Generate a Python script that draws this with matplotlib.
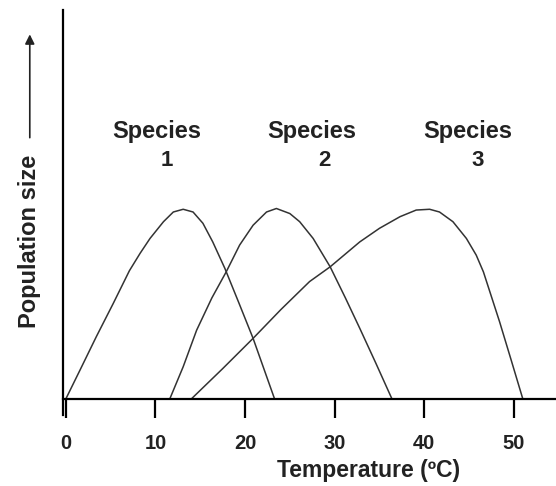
import matplotlib.pyplot as plt

# Curve points (temperature in degC, population in arbitrary units)
species1_x = [0, 1.6, 3.4, 5.3, 7.1, 8.3, 9.4, 10.9, 12.0, 13.1, 14.2, 15.3, 16.4, 17.75, 19.3, 20.9, 22.1, 23.3]
species1_y = [0, 7.5, 16.0, 24.6, 33.0, 37.5, 41.3, 45.6, 48.1, 48.8, 48.1, 45.2, 40.4, 33.6, 24.8, 15.6, 7.8, 0]

species2_x = [11.6, 13.1, 14.6, 16.3, 17.9, 19.4, 20.9, 22.4, 23.5, 25.0, 26.1, 27.6, 29.5, 31.2, 32.8, 34.6, 36.4]
species2_y = [0, 8.3, 17.7, 26.0, 32.7, 39.6, 44.7, 48.1, 49.0, 47.7, 45.6, 41.3, 34.0, 26.0, 18.2, 9.2, 0]

species3_x = [14.0, 17.5, 20.9, 24.0, 27.2, 29.5, 32.8, 35.0, 37.3, 39.1, 40.6, 41.7, 43.2, 44.7, 45.8, 46.6, 48.4, 49.7, 51.0]
species3_y = [0, 7.8, 15.6, 23.0, 30.2, 34.0, 40.4, 43.9, 46.9, 48.6, 48.8, 48.1, 45.6, 41.3, 37.0, 32.7, 19.9, 10.0, 0]

labels = ['Species', 'Species', 'Species']
numbers = ['1', '2', '3']
label_x = [10.1, 27.4, 44.8]
number_x = [11.3, 28.9, 45.9]

xticks = [0, 10, 20, 30, 40, 50]

plt.rcParams['font.family'] = ['Liberation Sans', 'DejaVu Sans']

fig = plt.figure(figsize=(5.56, 4.86), dpi=100)
ax = fig.add_axes([0.113, 0.179, 0.887, 0.80])

for xs, ys in [(species1_x, species1_y), (species2_x, species2_y), (species3_x, species3_y)]:
    ax.plot(xs, ys, color='#333333', linewidth=1.1, solid_joinstyle='round')

for lx, nx, lab, num in zip(label_x, number_x, labels, numbers):
    ax.text(lx, 68.9, lab, ha='center', va='center', fontsize=17, fontweight='bold', color='#222222')
    ax.text(nx, 61.4, num, ha='center', va='center', fontsize=16, fontweight='bold', color='#222222')

ax.set_xlim(-0.33, 54.7)
ax.set_ylim(0, 100)

ax.spines['top'].set_visible(False)
ax.spines['right'].set_visible(False)
ax.spines['left'].set_linewidth(1.6)
ax.spines['bottom'].set_linewidth(1.6)
ax.spines['left'].set_bounds(-4, 100)

ax.set_xticks(xticks)
ax.set_xticklabels([str(t) for t in xticks], fontsize=14.5, fontweight='bold', color='#222222')
ax.tick_params(axis='x', direction='out', length=14, width=1.6, pad=11)
ax.set_yticks([])

ax.set_xlabel('Temperature (ºC)', fontsize=16.5, fontweight='bold', color='#222222', va='center')
ax.xaxis.set_label_coords(0.62, -0.183)

# rotated y label with an upward arrow above it
ax.text(-0.067, 0.405, 'Population size', transform=ax.transAxes, rotation=90,
        ha='center', va='center', fontsize=17, fontweight='bold', color='#222222')
ax.annotate('', xy=(-0.067, 0.945), xytext=(-0.067, 0.665), xycoords='axes fraction',
            arrowprops=dict(arrowstyle='-|>', color='#222222', lw=1.2, mutation_scale=14),
            annotation_clip=False)

plt.savefig('out.png', dpi=100)
